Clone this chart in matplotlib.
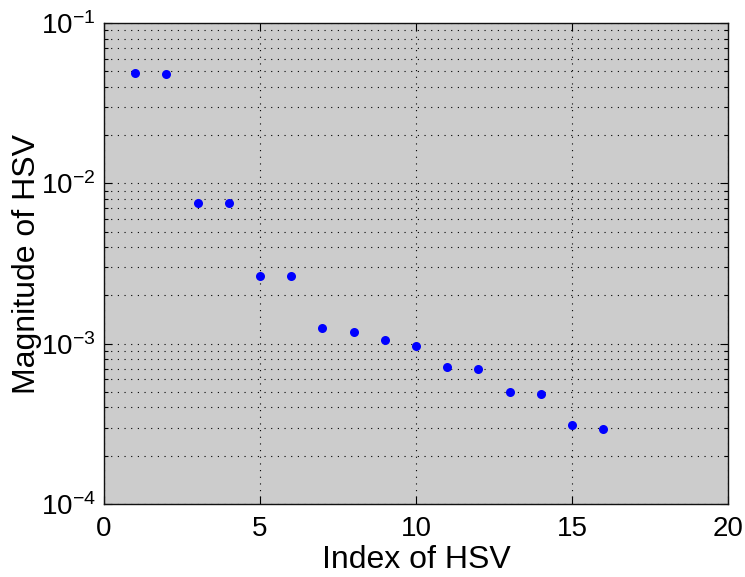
import numpy as np
import matplotlib
matplotlib.use("Agg")
import matplotlib.pyplot as plt
from matplotlib.ticker import FixedLocator, LogLocator, NullFormatter

index = [1, 2, 3, 4, 5, 6, 7, 8, 9, 10, 11, 12, 13, 14, 15, 16]
magnitude = [0.0488, 0.0480, 0.00753, 0.00750, 0.00264, 0.00264,
             0.001245, 0.001186, 0.001052, 0.000971, 0.000711, 0.000695,
             0.000501, 0.000485, 0.000311, 0.000293]
xticks = [0, 5, 10, 15, 20]
yticks = [1e-4, 1e-3, 1e-2, 1e-1]
ytick_labels = ["$10^{-4}$", "$10^{-3}$", "$10^{-2}$", "$10^{-1}$"]

plt.rcParams['font.family'] = ['Liberation Sans', 'DejaVu Sans']
plt.rcParams['mathtext.fontset'] = 'custom'
plt.rcParams['mathtext.rm'] = 'Liberation Sans'
plt.rcParams['mathtext.it'] = 'Liberation Sans'
plt.rcParams['mathtext.default'] = 'regular'

fig = plt.figure(figsize=(7.45, 5.77), dpi=100)
ax = fig.add_axes([104/745, 73/577, 624/745, 481/577])
ax.set_facecolor('#cccccc')
ax.plot(index, magnitude, 'o', color='#0000ff', markersize=6.5, markeredgewidth=0)
ax.set_yscale('log')
ax.set_xlim(0, 20)
ax.set_ylim(1e-4, 1e-1)
ax.set_xticks(xticks)
ax.set_xticklabels([str(t) for t in xticks])
ax.yaxis.set_major_locator(FixedLocator(yticks))
ax.set_yticklabels(ytick_labels)
ax.yaxis.set_minor_locator(LogLocator(base=10, subs=np.arange(2, 10)))
ax.yaxis.set_minor_formatter(NullFormatter())
dot = (0, (1, 5))
ax.grid(True, which='major', axis='both', color='k', linestyle=dot, linewidth=0.8)
ax.grid(True, which='minor', axis='y', color='k', linestyle=dot, linewidth=0.8)
ax.tick_params(which='both', direction='in', top=True, right=True, width=0.8)
ax.tick_params(axis='x', labelsize=20, pad=9)
ax.tick_params(axis='y', labelsize=20, pad=6)
ax.tick_params(which='major', length=6)
ax.tick_params(which='minor', length=3)
for s in ax.spines.values():
    s.set_linewidth(1.0)
    s.set_color('#111111')
ax.set_xlabel('Index of HSV', fontsize=23, labelpad=2)
ax.set_ylabel('Magnitude of HSV', fontsize=23, labelpad=-1)
fig.savefig('out.png', dpi=100)
